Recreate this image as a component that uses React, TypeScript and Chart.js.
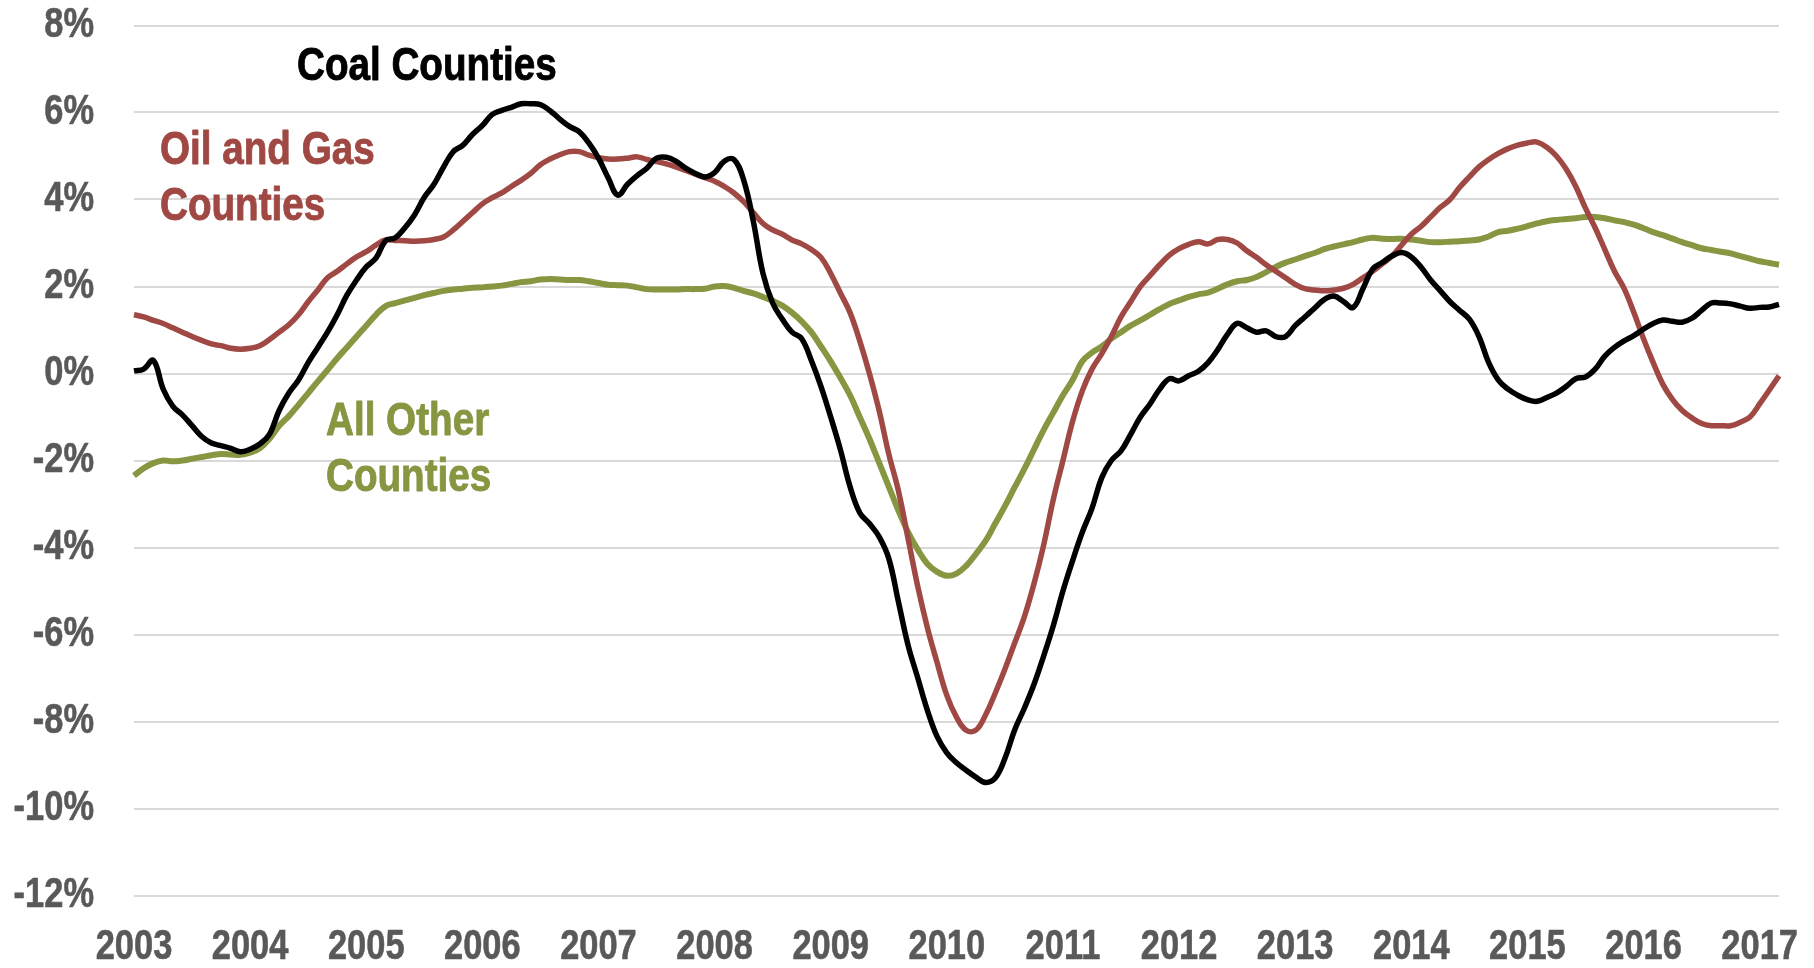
import React, { useEffect, useRef } from "react";
import { Chart, registerables } from "chart.js";

Chart.register(...registerables);

const startYear = 2003;
const yearLabels = ["2003", "2004", "2005", "2006", "2007", "2008", "2009", "2010", "2011", "2012", "2013", "2014", "2015", "2016", "2017"];

// Monthly, Jan 2003 - Mar 2017 (percent)
const coal = [
  0.06, 0.1, 0.3, -0.35, -0.75, -0.95, -1.2, -1.45, -1.6, -1.66,
  -1.72, -1.8, -1.74, -1.62, -1.4, -0.85, -0.45, -0.15, 0.25, 0.6,
  0.95, 1.35, 1.8, 2.15, 2.45, 2.65, 3.05, 3.12, 3.35, 3.65,
  4.05, 4.35, 4.75, 5.1, 5.25, 5.5, 5.7, 5.95, 6.05, 6.12,
  6.2, 6.2, 6.18, 6.04, 5.85, 5.68, 5.56, 5.3, 4.95, 4.5,
  4.1, 4.35, 4.55, 4.72, 4.95, 4.97, 4.88, 4.72, 4.6, 4.52,
  4.62, 4.88, 4.92, 4.45, 3.5, 2.3, 1.62, 1.25, 0.95, 0.8,
  0.3, -0.3, -1.0, -1.75, -2.6, -3.2, -3.45, -3.75, -4.25, -5.25,
  -6.25, -7.0, -7.75, -8.35, -8.72, -8.95, -9.12, -9.28, -9.4, -9.3,
  -8.85, -8.2, -7.7, -7.15, -6.5, -5.8, -5.0, -4.3, -3.65, -3.1,
  -2.4, -2.0, -1.78, -1.4, -1.0, -0.7, -0.36, -0.12, -0.17, -0.05,
  0.05, 0.25, 0.55, 0.9, 1.15, 1.05, 0.95, 0.98, 0.85, 0.85,
  1.1, 1.3, 1.5, 1.7, 1.78, 1.65, 1.52, 1.95, 2.4, 2.55,
  2.7, 2.78, 2.68, 2.45, 2.15, 1.9, 1.65, 1.45, 1.25, 0.85,
  0.25, -0.15, -0.36, -0.5, -0.6, -0.64, -0.55, -0.45, -0.3, -0.12,
  -0.08, 0.1, 0.4, 0.6, 0.75, 0.87, 1.02, 1.15, 1.23, 1.2,
  1.18, 1.27, 1.45, 1.62, 1.62, 1.6, 1.55, 1.5, 1.52, 1.53, 1.59,
];

const oilGas = [
  1.35, 1.3, 1.22, 1.15, 1.05, 0.95, 0.85, 0.76, 0.68, 0.64,
  0.58, 0.56, 0.58, 0.64, 0.78, 0.95, 1.12, 1.35, 1.65, 1.92,
  2.2, 2.35, 2.52, 2.68, 2.8, 2.95, 3.07, 3.06, 3.05, 3.04,
  3.05, 3.08, 3.14, 3.3, 3.5, 3.7, 3.9, 4.04, 4.15, 4.3,
  4.44, 4.6, 4.8, 4.93, 5.03, 5.1, 5.1, 5.02, 4.96, 4.93,
  4.93, 4.95, 4.98, 4.92, 4.87, 4.82, 4.75, 4.67, 4.58, 4.5,
  4.42, 4.3, 4.15, 3.95, 3.7, 3.45, 3.3, 3.2, 3.07, 2.98,
  2.85, 2.67, 2.3, 1.85, 1.4, 0.75, 0.0, -0.85, -1.85, -2.7,
  -3.8, -4.9, -5.85, -6.65, -7.4, -7.9, -8.2, -8.2, -7.85, -7.35,
  -6.8, -6.2, -5.6, -4.84, -3.95, -2.9, -2.0, -1.1, -0.4, 0.1,
  0.45, 0.85, 1.3, 1.65, 2.0, 2.25, 2.5, 2.72, 2.87, 2.97,
  3.03, 2.98, 3.08, 3.08, 3.0, 2.82, 2.67, 2.5, 2.35, 2.2,
  2.05, 1.95, 1.92, 1.9, 1.92, 1.96, 2.05, 2.2, 2.35, 2.52,
  2.7, 2.95, 3.2, 3.38, 3.6, 3.82, 4.0, 4.28, 4.52, 4.75,
  4.92, 5.06, 5.17, 5.25, 5.3, 5.32, 5.2, 5.0, 4.7, 4.3,
  3.8, 3.35, 2.85, 2.35, 1.95, 1.4, 0.8, 0.25, -0.25, -0.6,
  -0.85, -1.02, -1.15, -1.2, -1.2, -1.2, -1.12, -1.0, -0.7, -0.38, -0.05,
];

const allOther = [
  -2.35, -2.18, -2.06, -2.0, -2.02, -2.0, -1.96, -1.92, -1.88, -1.85,
  -1.86, -1.87, -1.82, -1.72, -1.5, -1.2, -0.98, -0.72, -0.45, -0.18,
  0.08, 0.35, 0.6, 0.85, 1.1, 1.35, 1.55, 1.62, 1.68, 1.74,
  1.8, 1.85, 1.9, 1.93, 1.95, 1.97, 1.98, 2.0, 2.02, 2.06,
  2.1, 2.12, 2.16, 2.17, 2.16, 2.15, 2.15, 2.12, 2.08, 2.04,
  2.03, 2.02, 1.98, 1.94, 1.93, 1.93, 1.93, 1.94, 1.94, 1.95,
  2.0, 2.01, 1.97, 1.9, 1.84, 1.76, 1.67, 1.56, 1.4, 1.2,
  0.95, 0.62, 0.28, -0.1, -0.5, -1.0, -1.5, -2.05, -2.6, -3.15,
  -3.65, -4.05, -4.38, -4.56, -4.65, -4.6, -4.42, -4.15, -3.85, -3.45,
  -3.05, -2.62, -2.2, -1.75, -1.3, -0.9, -0.5, -0.15, 0.28, 0.48,
  0.62, 0.8, 0.95, 1.1, 1.22, 1.35, 1.48, 1.6, 1.68, 1.76,
  1.82, 1.86, 1.95, 2.05, 2.12, 2.15, 2.22, 2.33, 2.45, 2.55,
  2.62, 2.7, 2.77, 2.86, 2.92, 2.97, 3.02, 3.08, 3.12, 3.1,
  3.09, 3.1, 3.08, 3.05, 3.02, 3.02, 3.03, 3.04, 3.06, 3.08,
  3.15, 3.25, 3.28, 3.33, 3.39, 3.45, 3.5, 3.53, 3.55, 3.57,
  3.6, 3.6, 3.57, 3.52, 3.48, 3.42, 3.34, 3.25, 3.18, 3.1,
  3.02, 2.95, 2.88, 2.84, 2.8, 2.76, 2.7, 2.64, 2.58, 2.54, 2.5,
];

const months = coal.map((_, i) => `${startYear + Math.floor(i / 12)}-${String((i % 12) + 1).padStart(2, "0")}`);

const RED = "#A04843";
const GREEN = "#869641";
const AXIS_GRAY = "#595959";
const FONT = '"Liberation Sans", Arimo, Arial, sans-serif';
const NARROW = 0.82;

function narrowText(ctx: any, text: string, x: number, y: number, align: string, scaleX: number, stroke: number) {
  ctx.save();
  ctx.translate(x, y);
  ctx.scale(scaleX, 1);
  ctx.textAlign = align;
  ctx.fillText(text, 0, 0);
  if (stroke > 0) {
    ctx.strokeStyle = ctx.fillStyle;
    ctx.lineWidth = stroke;
    ctx.lineJoin = "round";
    ctx.strokeText(text, 0, 0);
  }
  ctx.restore();
}

const textPlugin = {
  id: "narrowText",
  afterDraw(chart: any) {
    const ctx = chart.ctx;
    const xs = chart.scales.x;
    const ys = chart.scales.y;
    ctx.save();
    // axis tick labels
    ctx.font = `bold 42px ${FONT}`;
    ctx.fillStyle = AXIS_GRAY;
    ctx.textBaseline = "middle";
    ys.ticks.forEach((t: any) => {
      narrowText(ctx, `${t.value}%`, ys.right - 40, ys.getPixelForValue(t.value), "right", NARROW, 0.6);
    });
    yearLabels.forEach((lab, k) => {
      narrowText(ctx, lab, xs.getPixelForValue(k * 12), xs.top + 51.5, "center", NARROW, 0.6);
    });
    // series labels
    ctx.font = `bold 46px ${FONT}`;
    ctx.textBaseline = "alphabetic";
    ctx.fillStyle = "#000000";
    narrowText(ctx, "Coal Counties", 297, 80, "left", 0.84, 0.9);
    ctx.fillStyle = RED;
    narrowText(ctx, "Oil and Gas", 160, 164, "left", 0.84, 0.9);
    narrowText(ctx, "Counties", 160, 220, "left", 0.84, 0.9);
    ctx.fillStyle = GREEN;
    narrowText(ctx, "All Other", 326, 435, "left", 0.84, 0.9);
    narrowText(ctx, "Counties", 326, 491, "left", 0.84, 0.9);
    ctx.restore();
  },
};

export default function App() {
  const ref = useRef<HTMLCanvasElement | null>(null);
  useEffect(() => {
    if (!ref.current) return;
    const chart = new Chart(ref.current, {
      type: "line",
      data: {
        labels: months,
        datasets: [
          { label: "Coal Counties", data: coal, borderColor: "#000000", borderWidth: 5.5, pointRadius: 0, tension: 0.4, fill: false },
          { label: "Oil and Gas Counties", data: oilGas, borderColor: RED, borderWidth: 5.5, pointRadius: 0, tension: 0.4, fill: false },
          { label: "All Other Counties", data: allOther, borderColor: GREEN, borderWidth: 6, pointRadius: 0, tension: 0.4, fill: false },
        ],
      },
      options: {
        responsive: false,
        animation: false,
        devicePixelRatio: 1,
        layout: { padding: { top: 25.5, right: 35, bottom: 0, left: 0 } },
        plugins: { legend: { display: false }, tooltip: { enabled: false } },
        scales: {
          x: {
            type: "category",
            offset: false,
            grid: { display: false, drawTicks: false },
            border: { display: false },
            ticks: { display: false, autoSkip: false, maxRotation: 0 },
            afterFit: (scale: any) => {
              scale.height = 72.5;
            },
          },
          y: {
            min: -12,
            max: 8,
            grid: { color: "#D9D9D9", lineWidth: 2, drawTicks: false },
            border: { display: false },
            ticks: { display: false, stepSize: 2 },
            afterFit: (scale: any) => {
              scale.width = 134;
            },
          },
        },
      },
      plugins: [textPlugin],
    });
    return () => chart.destroy();
  }, []);
  return (
    <div style={{ position: "fixed", left: 0, top: 0, width: 1814, height: 968, background: "#ffffff" }}>
      <canvas ref={ref} width={1814} height={968} style={{ width: 1814, height: 968, display: "block" }} />
    </div>
  );
}
